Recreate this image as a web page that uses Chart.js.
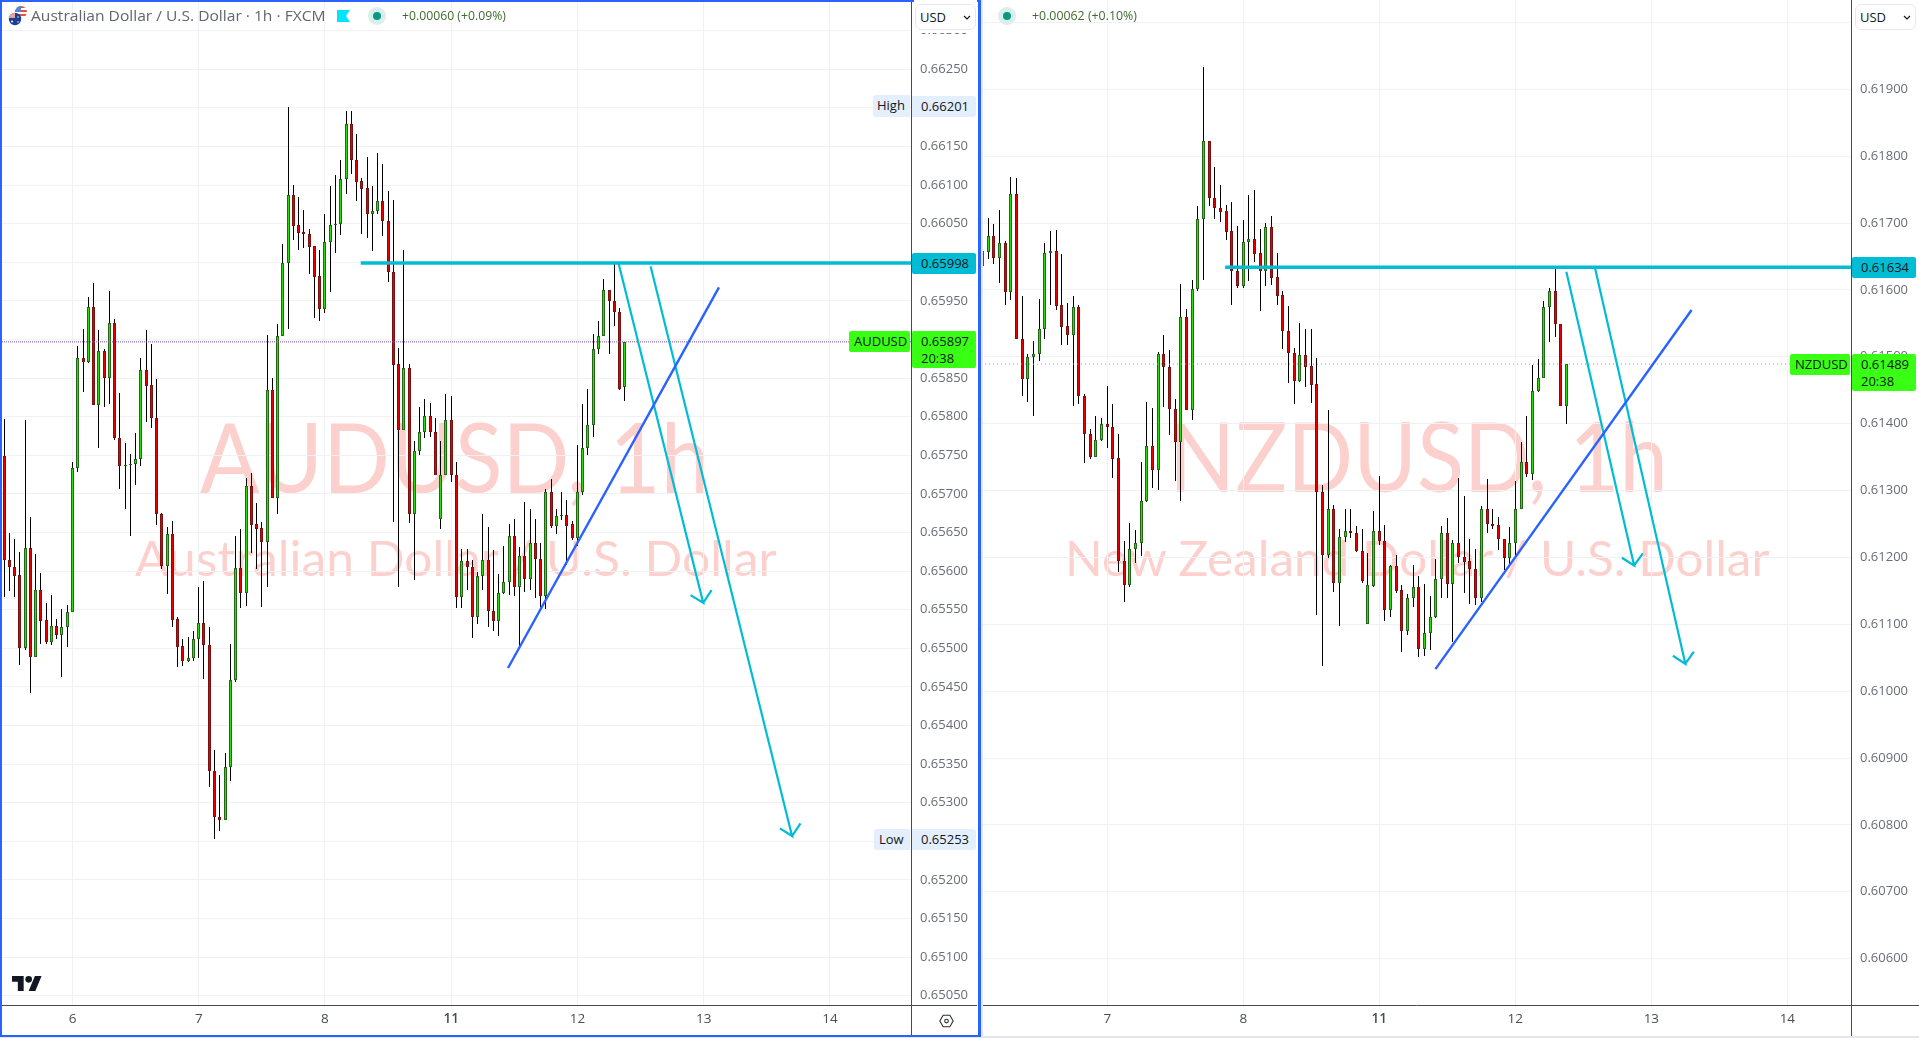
<!DOCTYPE html>
<html><head><meta charset="utf-8">
<script src="https://cdn.jsdelivr.net/npm/chart.js@4"></script>
<style>
html,body{margin:0;padding:0;background:#fff;width:1919px;height:1038px;overflow:hidden;font-family:"Open Sans",sans-serif}
canvas{position:absolute;top:0;display:block}
.abs{position:absolute}
.wm{position:absolute;white-space:nowrap;font-family:"Lato",sans-serif;color:rgba(244,67,54,.25);transform-origin:0 0;line-height:1}
.tag{position:absolute;white-space:nowrap;font-size:13px;color:#131722;box-sizing:border-box;line-height:20px;border-radius:2px;text-align:left}
.box{position:absolute;top:4px;height:26px;width:61px;box-sizing:border-box;background:#fff;border:1px solid #e7e9ef;border-radius:6px;font-size:13px;line-height:24px;padding-left:4px;color:#131722}
.hdr{position:absolute;white-space:nowrap;transform-origin:0 50%;line-height:18px}
</style></head><body>

<div class="wm" data-x="200" data-w="510" data-b="491" style="font-size:96px">AUDUSD, 1h</div>
<div class="wm" data-x="135" data-w="642" data-b="575" style="font-size:48px">Australian Dollar / U.S. Dollar</div>
<div class="wm" data-x="1169" data-w="499" data-b="490" style="font-size:96px">NZDUSD, 1h</div>
<div class="wm" data-x="1065" data-w="704" data-b="575" style="font-size:48px">New Zealand Dollar / U.S. Dollar</div>

<canvas id="audChart" width="977" height="1038" style="left:0"></canvas>
<canvas id="nzdChart" width="938" height="1038" style="left:981px"></canvas>

<!-- extensions of the axis lines, pane frame -->
<div class="abs" style="left:911px;top:1005px;width:66px;height:1px;background:#4a4a4e"></div>
<div class="abs" style="left:911px;top:1005px;width:1px;height:31px;background:#4a4a4e"></div>
<div class="abs" style="left:1851px;top:1005px;width:68px;height:1px;background:#4a4a4e"></div>
<div class="abs" style="left:1851px;top:1005px;width:1px;height:33px;background:#4a4a4e"></div>
<div class="abs" style="left:981px;top:0;width:2px;height:1038px;background:#e3e6ef"></div>
<div class="abs" style="left:0;top:1036px;width:1919px;height:2px;background:#e3e6ef"></div>
<div class="abs" style="left:0;top:0;width:981px;height:1037px;box-sizing:border-box;border:2px solid #2962ff;border-right-width:3px"></div>

<!-- left legend -->
<svg class="abs" style="left:8px;top:5px" width="22" height="22" viewBox="0 0 22 22">
  <defs><clipPath id="us"><circle cx="13" cy="7" r="6"/></clipPath><clipPath id="au"><circle cx="7" cy="14" r="6.2"/></clipPath></defs>
  <g clip-path="url(#us)"><rect x="6" y="0" width="14" height="14" fill="#fff"/>
    <rect x="6" y="1" width="14" height="2" fill="#e3503f"/><rect x="6" y="5" width="14" height="2" fill="#e3503f"/><rect x="6" y="9" width="14" height="2" fill="#e3503f"/>
    <rect x="6" y="0" width="7" height="7" fill="#5b86c9"/></g>
  <g clip-path="url(#au)"><rect x="0" y="7" width="14" height="14" fill="#1c3f94"/>
    <rect x="1" y="8" width="6" height="5" fill="#e8a2a2"/>
    <circle cx="4" cy="16.5" r="1" fill="#fff"/><circle cx="10" cy="12" r=".7" fill="#fff"/><circle cx="10" cy="17" r=".7" fill="#fff"/></g>
</svg>
<div class="hdr" data-w="294" style="left:31px;top:7px;font-size:14px;color:#62656f">Australian Dollar / U.S. Dollar · 1h · FXCM</div>
<svg class="abs" style="left:337px;top:10px" width="13" height="12"><polygon points="0,0 13,0 9,6 13,12 0,12" fill="#00e5ff"/></svg>
<svg class="abs" style="left:367px;top:6px" width="20" height="20"><circle cx="10" cy="10" r="9" fill="#d9efec"/><circle cx="10" cy="10" r="4" fill="#089981"/></svg>
<div class="hdr" data-w="104" style="left:402px;top:7px;font-size:12px;color:#3f6b2e">+0.00060 (+0.09%)</div>

<!-- right legend -->
<svg class="abs" style="left:997px;top:6px" width="20" height="20"><circle cx="10" cy="10" r="9" fill="#d9efec"/><circle cx="10" cy="10" r="4" fill="#089981"/></svg>
<div class="hdr" data-w="105" style="left:1032px;top:7px;font-size:12px;color:#3f6b2e">+0.00062 (+0.10%)</div>

<!-- currency boxes -->
<div class="abs" style="left:914px;top:0;width:63px;height:33px;background:#fff"></div>
<div class="box" style="left:915px">USD<svg class="abs" style="left:47px;top:10px" width="8" height="5"><path d="M1 1l3 3 3-3" fill="none" stroke="#131722" stroke-width="1.2"/></svg></div>
<div class="abs" style="left:1853px;top:0;width:66px;height:33px;background:#fff"></div>
<div class="box" style="left:1855px">USD<svg class="abs" style="left:47px;top:10px" width="8" height="5"><path d="M1 1l3 3 3-3" fill="none" stroke="#131722" stroke-width="1.2"/></svg></div>

<!-- left price tags -->
<div class="tag" style="left:873px;top:95px;width:37px;height:22px;background:#e3effd;padding-left:4px;border-radius:3px 0 0 3px">High</div>
<div class="tag" style="left:912px;top:96px;width:64px;height:21px;background:#e3effd;padding-left:9px;border-radius:0 3px 3px 0">0.66201</div>
<div class="tag" style="left:874px;top:829px;width:36px;height:21px;background:#e3effd;padding-left:5px;border-radius:3px 0 0 3px">Low</div>
<div class="tag" style="left:912px;top:829px;width:64px;height:21px;background:#e3effd;padding-left:9px;border-radius:0 3px 3px 0">0.65253</div>
<div class="tag" style="left:912px;top:253px;width:64px;height:21px;background:#00bcd4;padding-left:9px">0.65998</div>
<div class="tag" style="left:849px;top:331px;width:61px;height:21px;background:#39ff14;padding-left:5px">AUDUSD</div>
<div class="tag" style="left:912px;top:331px;width:64px;height:37px;background:#39ff14;padding-left:9px;line-height:17px;padding-top:2px">0.65897<br>20:38</div>

<!-- right price tags -->
<div class="tag" style="left:1852px;top:257px;width:64px;height:21px;background:#00bcd4;padding-left:9px">0.61634</div>
<div class="tag" style="left:1790px;top:354px;width:60px;height:21px;background:#39ff14;padding-left:5px">NZDUSD</div>
<div class="tag" style="left:1852px;top:354px;width:64px;height:37px;background:#39ff14;padding-left:9px;line-height:17px;padding-top:2px">0.61489<br>20:38</div>

<!-- logo and settings -->
<svg class="abs" style="left:12px;top:976px" width="30" height="15" viewBox="0 0 36 18"><path d="M14 18H7V7H0V0h14v18zM28 18h-8L27.500 0h8L28 18z" fill="#131722"/><circle cx="20" cy="4" r="4" fill="#131722"/></svg>
<svg class="abs" style="left:939px;top:1014px" width="15" height="14" viewBox="0 0 18 16"><path d="M5 1h8l4 7-4 7H5L1 8z" fill="none" stroke="#2a2e39" stroke-width="1.3"/><circle cx="9" cy="8" r="2.200" fill="none" stroke="#2a2e39" stroke-width="1.3"/></svg>

<script>
const audOpen=[0.65749,0.65615,0.65605,0.65595,0.65501,0.65630,0.65489,0.65575,0.65537,0.65508,
0.65529,0.65517,0.65527,0.65547,0.65734,0.65876,0.65871,0.65942,0.65815,0.65885,
0.65850,0.65921,0.65773,0.65736,0.65738,0.65739,0.65745,0.65861,0.65841,0.65798,
0.65674,0.65607,0.65648,0.65538,0.65503,0.65484,0.65487,0.65512,0.65533,0.65504,
0.65341,0.65281,0.65278,0.65346,0.65459,0.65604,0.65572,0.65710,0.65661,0.65656,
0.65638,0.65834,0.65695,0.65904,0.65999,0.66087,0.66048,0.66039,0.66037,0.66021,
0.65982,0.65939,0.66026,0.66048,0.66049,0.66108,0.66179,0.66133,0.66105,0.66096,
0.66063,0.66066,0.66079,0.66053,0.65987,0.65868,0.65783,0.65863,0.65674,0.65756,
0.65780,0.65801,0.65780,0.65668,0.65725,0.65796,0.65725,0.65566,0.65613,0.65605,
0.65540,0.65594,0.65614,0.65549,0.65535,0.65572,0.65586,0.65645,0.65579,0.65620,
0.65590,0.65636,0.65616,0.65568,0.65702,0.65659,0.65671,0.65673,0.65661,0.65643,
0.65702,0.65760,0.65789,0.65888,0.65904,0.65964,0.65950,0.65936,0.65838];
const audHigh=[0.65797,0.65649,0.65642,0.65625,0.65796,0.65670,0.65622,0.65598,0.65559,0.65569,
0.65538,0.65551,0.65556,0.65741,0.65891,0.65914,0.65955,0.65973,0.65912,0.65888,
0.65963,0.65926,0.65831,0.65766,0.65752,0.65779,0.65876,0.65912,0.65894,0.65849,
0.65675,0.65657,0.65665,0.65541,0.65512,0.65515,0.65522,0.65580,0.65587,0.65527,
0.65368,0.65336,0.65364,0.65506,0.65646,0.65655,0.65720,0.65727,0.65688,0.65664,
0.65906,0.65850,0.65920,0.66024,0.66201,0.66100,0.66085,0.66068,0.66043,0.66021,
0.66016,0.66063,0.66099,0.66113,0.66133,0.66196,0.66196,0.66166,0.66109,0.66136,
0.66099,0.66142,0.66127,0.66093,0.66081,0.65889,0.66016,0.65868,0.65768,0.65812,
0.65823,0.65818,0.65798,0.65768,0.65830,0.65827,0.65742,0.65629,0.65629,0.65615,
0.65599,0.65674,0.65657,0.65627,0.65596,0.65633,0.65661,0.65667,0.65631,0.65689,
0.65680,0.65668,0.65637,0.65706,0.65719,0.65681,0.65702,0.65692,0.65665,0.65763,
0.65817,0.65836,0.65907,0.65924,0.65979,0.65964,0.65999,0.65941,0.65897];
const audLow=[0.65567,0.65574,0.65567,0.65478,0.65498,0.65442,0.65489,0.65506,0.65505,0.65504,
0.65512,0.65463,0.65502,0.65547,0.65728,0.65832,0.65869,0.65815,0.65760,0.65812,
0.65817,0.65770,0.65707,0.65681,0.65645,0.65711,0.65736,0.65793,0.65785,0.65660,
0.65603,0.65570,0.65528,0.65476,0.65477,0.65482,0.65484,0.65487,0.65460,0.65320,
0.65253,0.65263,0.65277,0.65328,0.65456,0.65552,0.65555,0.65624,0.65603,0.65554,
0.65579,0.65695,0.65674,0.65904,0.65913,0.66029,0.66016,0.66019,0.65985,0.65928,
0.65924,0.65935,0.65961,0.66012,0.66035,0.66089,0.66114,0.66080,0.66037,0.66032,
0.66015,0.66062,0.66034,0.65974,0.65663,0.65580,0.65783,0.65662,0.65588,0.65751,
0.65773,0.65774,0.65725,0.65654,0.65725,0.65716,0.65552,0.65552,0.65576,0.65514,
0.65532,0.65576,0.65527,0.65522,0.65516,0.65571,0.65569,0.65568,0.65499,0.65573,
0.65575,0.65565,0.65554,0.65551,0.65656,0.65648,0.65666,0.65608,0.65640,0.65633,
0.65698,0.65750,0.65774,0.65881,0.65904,0.65881,0.65918,0.65834,0.65820];
const audClose=[0.65614,0.65605,0.65594,0.65501,0.65630,0.65489,0.65575,0.65536,0.65508,0.65529,
0.65517,0.65527,0.65547,0.65734,0.65876,0.65871,0.65942,0.65815,0.65885,0.65850,
0.65921,0.65773,0.65736,0.65737,0.65739,0.65745,0.65861,0.65840,0.65798,0.65674,
0.65607,0.65648,0.65537,0.65502,0.65484,0.65487,0.65512,0.65533,0.65504,0.65341,
0.65281,0.65278,0.65346,0.65459,0.65604,0.65572,0.65710,0.65660,0.65655,0.65638,
0.65834,0.65695,0.65904,0.65999,0.66087,0.66047,0.66038,0.66037,0.66020,0.65981,
0.65939,0.66026,0.66048,0.66049,0.66108,0.66179,0.66133,0.66104,0.66095,0.66063,
0.66066,0.66079,0.66053,0.65987,0.65867,0.65783,0.65863,0.65674,0.65756,0.65780,
0.65801,0.65780,0.65725,0.65725,0.65796,0.65725,0.65566,0.65613,0.65605,0.65540,
0.65594,0.65614,0.65549,0.65535,0.65572,0.65586,0.65645,0.65579,0.65620,0.65590,
0.65636,0.65616,0.65568,0.65702,0.65659,0.65672,0.65673,0.65659,0.65643,0.65702,
0.65760,0.65789,0.65888,0.65904,0.65964,0.65950,0.65936,0.65836,0.65897];

const nzdOpen=[0.61635,0.61657,0.61680,0.61648,0.61670,0.61597,0.61743,0.61526,0.61467,0.61499,
0.61504,0.61541,0.61655,0.61658,0.61577,0.61546,0.61532,0.61574,0.61442,0.61385,
0.61350,0.61376,0.61400,0.61395,0.61348,0.61194,0.61159,0.61213,0.61221,0.61284,
0.61367,0.61331,0.61504,0.61484,0.61422,0.61373,0.61559,0.61420,0.61601,0.61706,
0.61822,0.61737,0.61722,0.61718,0.61688,0.61629,0.61606,0.61671,0.61676,0.61655,
0.61629,0.61694,0.61619,0.61592,0.61539,0.61505,0.61464,0.61502,0.61486,0.61459,
0.61298,0.61204,0.61272,0.61162,0.61231,0.61240,0.61237,0.61210,0.61100,0.61157,
0.61240,0.61225,0.61122,0.61187,0.61151,0.61090,0.61140,0.61155,0.61063,0.61087,
0.61111,0.61167,0.61237,0.61160,0.61222,0.61201,0.61194,0.61183,0.61139,0.61273,
0.61250,0.61248,0.61227,0.61199,0.61221,0.61273,0.61342,0.61325,0.61449,0.61469,
0.61575,0.61598,0.61549,0.61427];
const nzdHigh=[0.61679,0.61708,0.61699,0.61720,0.61673,0.61769,0.61767,0.61591,0.61504,0.61524,
0.61586,0.61670,0.61688,0.61689,0.61654,0.61580,0.61591,0.61577,0.61444,0.61392,
0.61412,0.61409,0.61456,0.61429,0.61385,0.61224,0.61251,0.61241,0.61342,0.61432,
0.61424,0.61507,0.61533,0.61510,0.61437,0.61609,0.61572,0.61615,0.61726,0.61934,
0.61822,0.61784,0.61757,0.61727,0.61732,0.61696,0.61705,0.61742,0.61749,0.61691,
0.61700,0.61711,0.61655,0.61598,0.61576,0.61513,0.61550,0.61541,0.61542,0.61498,
0.61309,0.61420,0.61278,0.61243,0.61272,0.61272,0.61247,0.61243,0.61207,0.61269,
0.61322,0.61248,0.61188,0.61204,0.61159,0.61145,0.61188,0.61172,0.61160,0.61142,
0.61198,0.61247,0.61259,0.61226,0.61319,0.61292,0.61227,0.61213,0.61277,0.61317,
0.61273,0.61260,0.61228,0.61245,0.61314,0.61372,0.61411,0.61487,0.61497,0.61584,
0.61603,0.61635,0.61549,0.61489];
const nzdLow=[0.61604,0.61646,0.61639,0.61610,0.61577,0.61585,0.61526,0.61441,0.61432,0.61411,
0.61493,0.61526,0.61578,0.61570,0.61517,0.61517,0.61427,0.61429,0.61341,0.61347,
0.61350,0.61374,0.61363,0.61319,0.61178,0.61134,0.61156,0.61192,0.61202,0.61283,
0.61304,0.61301,0.61425,0.61383,0.61314,0.61285,0.61420,0.61405,0.61599,0.61615,
0.61726,0.61706,0.61701,0.61675,0.61577,0.61603,0.61603,0.61614,0.61642,0.61569,
0.61606,0.61608,0.61578,0.61512,0.61461,0.61429,0.61463,0.61455,0.61431,0.61114,
0.61037,0.61199,0.61149,0.61097,0.61223,0.61229,0.61208,0.61162,0.61100,0.61156,
0.61218,0.61105,0.61111,0.61147,0.61058,0.61084,0.61126,0.61051,0.61052,0.61061,
0.61110,0.61140,0.61139,0.61074,0.61191,0.61147,0.61131,0.61129,0.61134,0.61237,
0.61242,0.61211,0.61181,0.61187,0.61200,0.61272,0.61320,0.61316,0.61447,0.61469,
0.61522,0.61529,0.61427,0.61399];
const nzdClose=[0.61658,0.61680,0.61648,0.61670,0.61597,0.61743,0.61526,0.61467,0.61499,0.61504,
0.61541,0.61655,0.61658,0.61576,0.61545,0.61532,0.61574,0.61441,0.61385,0.61350,
0.61376,0.61400,0.61395,0.61347,0.61194,0.61159,0.61213,0.61221,0.61284,0.61367,
0.61331,0.61504,0.61484,0.61422,0.61373,0.61559,0.61420,0.61601,0.61706,0.61822,
0.61737,0.61722,0.61717,0.61687,0.61629,0.61606,0.61671,0.61676,0.61654,0.61629,
0.61694,0.61618,0.61591,0.61539,0.61505,0.61464,0.61502,0.61485,0.61458,0.61298,
0.61204,0.61272,0.61162,0.61231,0.61240,0.61237,0.61209,0.61165,0.61158,0.61240,
0.61225,0.61122,0.61187,0.61150,0.61090,0.61140,0.61155,0.61063,0.61087,0.61111,
0.61167,0.61237,0.61160,0.61222,0.61201,0.61193,0.61183,0.61139,0.61273,0.61250,
0.61247,0.61227,0.61199,0.61221,0.61273,0.61342,0.61325,0.61449,0.61469,0.61575,
0.61598,0.61549,0.61427,0.61489];

const audDayIndex=[13,37,61,85,109,133,157];
const audDayLabels=['6','7','8','11','12','13','14'];
const nzdDayIndex=[22,46,70,94,118,142];
const nzdDayLabels=['7','8','11','12','13','14'];
const audPriceTicks=[0.6505,0.6510,0.6515,0.6520,0.6525,0.6530,0.6535,0.6540,0.6545,0.6550,0.6555,0.6560,0.6565,0.6570,0.6575,0.6580,0.6585,0.6590,0.6595,0.6600,0.6605,0.6610,0.6615,0.6620,0.6625,0.6630];
const nzdPriceTicks=[0.606,0.607,0.608,0.609,0.610,0.611,0.612,0.613,0.614,0.615,0.616,0.617,0.618,0.619,0.620];

const audLast=0.65897, audLevel=0.65999, audLevelStart=67.8;
const nzdLast=0.61489, nzdLevel=0.61634, nzdLevelStart=42.8;
// drawings as [candle index, price]
const audTrend=[[95.8,0.654745],[135.9,0.659676]];
const audArrowA=[[116.8,0.65999],[132.9,0.65559],[130.5,0.65569],[132.9,0.65559],[134.5,0.655755]];
const audArrowB=[[122.9,0.65995],[149.8,0.652569],[147.5,0.652668],[149.8,0.652569],[151.4,0.652733]];
const nzdTrend=[[79.9,0.61033],[125.1,0.6157]];
const nzdArrowA=[[103.0,0.616273],[114.96,0.61188],[112.8,0.611995],[114.96,0.61188],[116.5,0.61206]];
const nzdArrowB=[[108.0,0.61635],[124.0,0.610408],[121.8,0.61053],[124.0,0.610408],[125.5,0.61059]];

const UP='#2fdc00',UPB='#1f6b12',DN='#e40000',DNB='#7d0f0f',GRID='#eff1f5',AXIS='#4a4a4e',CYAN='#00bcd4',BLUE='#2962ff';

Chart.defaults.font.family='"Open Sans",sans-serif';

const snap={id:'snap',beforeDatasetsDraw(chart){
  chart.data.datasets.forEach((d,i)=>{
    if(d.type!=='bar')return;
    chart.getDatasetMeta(i).data.forEach(el=>{
      el.x=Math.floor(el.x)+0.5; el.y=Math.round(el.y); el.base=Math.round(el.base);
    });
  });
}};

const toPts=a=>a.map(p=>({x:p[0],y:p[1]}));
function drawing(pts,color,width,extra){
  return Object.assign({type:'line',data:toPts(pts),borderColor:color,borderWidth:width,pointRadius:0,tension:0,fill:false,order:0,borderCapStyle:'butt',borderJoinStyle:'miter'},extra||{});
}
function build(id,o,h,l,c,dayIdx,dayLbl,priceTicks,xMin,xMax,yMin,yMax,axisW,extraSets){
  const idx=o.map((_,i)=>i);
  const up=i=>c[i]>=o[i];
  return new Chart(document.getElementById(id),{
    type:'bar',
    plugins:[snap],
    data:{datasets:[
      ...extraSets,
      {type:'bar',grouped:false,order:1,barThickness:3,borderWidth:1,borderSkipped:false,inflateAmount:0,
       data:idx.map(i=>({x:i,y:[o[i],c[i]]})),
       backgroundColor:idx.map(i=>up(i)?UP:DN),borderColor:idx.map(i=>up(i)?UPB:DNB)},
      {type:'bar',grouped:false,order:2,barThickness:1,borderWidth:0,inflateAmount:0,
       data:idx.map(i=>({x:i,y:[l[i],h[i]]})),backgroundColor:'#000'}
    ]},
    options:{
      responsive:false,animation:false,events:[],
      layout:{padding:0},
      plugins:{legend:{display:false},tooltip:{enabled:false}},
      scales:{
        x:{type:'linear',position:'bottom',min:xMin,max:xMax,offset:false,
          grid:{color:GRID,drawTicks:false,offset:false},
          border:{color:AXIS,width:1},
          ticks:{autoSkip:false,maxRotation:0,padding:6,color:'#4a4d57',
            font:ctx=>({size:13.5,weight:(ctx.tick&&ctx.tick.value===dayIdx[dayLbl.indexOf('11')])?'600':'400'}),
            callback:v=>dayLbl[dayIdx.indexOf(v)]},
          afterBuildTicks:s=>{s.ticks=dayIdx.map(v=>({value:v}));},
          afterFit:s=>{s.height=33;s.paddingLeft=s.paddingRight=s.paddingTop=s.paddingBottom=0;}
        },
        y:{type:'linear',position:'right',min:yMin,max:yMax,
          grid:{color:GRID,drawTicks:false},
          border:{color:AXIS,width:1},
          ticks:{autoSkip:false,padding:9,color:'#6a6d78',font:{size:13},callback:v=>v.toFixed(5)},
          afterBuildTicks:s=>{s.ticks=priceTicks.map(v=>({value:v}));},
          afterFit:s=>{s.width=axisW;s.paddingLeft=s.paddingRight=s.paddingTop=s.paddingBottom=0;}
        }
      }
    }
  });
}

const audXMin=-0.783,audXMax=172.41,nzdXMin=-0.287,nzdXMax=153.23;
build('audChart',audOpen,audHigh,audLow,audClose,audDayIndex,audDayLabels,audPriceTicks,audXMin,audXMax,0.650380,0.663398,66,[
  drawing([[audLevelStart,audLevel],[audXMax,audLevel]],CYAN,3.5),
  drawing(audTrend,BLUE,2.4),
  drawing(audArrowA,CYAN,2.2),
  drawing(audArrowB,CYAN,2.2),
  drawing([[audXMin,audLast],[audXMax,audLast]],'#f23645',1,{borderDash:[1,3]}),
  drawing([[audXMin,audLast],[audXMax,audLast]],'#2962ff',1,{borderDash:[1,3],borderDashOffset:2})
]);
build('nzdChart',nzdOpen,nzdHigh,nzdLow,nzdClose,nzdDayIndex,nzdDayLabels,nzdPriceTicks,nzdXMin,nzdXMax,0.605307,0.620335,68,[
  drawing([[nzdLevelStart,nzdLevel],[nzdXMax,nzdLevel]],CYAN,3.5),
  drawing(nzdTrend,BLUE,2.4),
  drawing(nzdArrowA,CYAN,2.2),
  drawing(nzdArrowB,CYAN,2.2),
  drawing([[nzdXMin,nzdLast],[nzdXMax,nzdLast]],'#2fe01a',1,{borderDash:[1,3]})
]);

function fitAll(){
  document.querySelectorAll('.wm').forEach(el=>{
    const w=el.offsetWidth,fs=parseFloat(el.style.fontSize);
    el.style.left=el.dataset.x+'px';
    el.style.top=(+el.dataset.b-fs*0.86)+'px';
    el.style.transform='scaleX('+(+el.dataset.w/w)+')';
  });
  document.querySelectorAll('.hdr').forEach(el=>{
    el.style.transform='scaleX('+(+el.dataset.w/el.offsetWidth)+')';
  });
}
fitAll();
</script>
</body></html>
